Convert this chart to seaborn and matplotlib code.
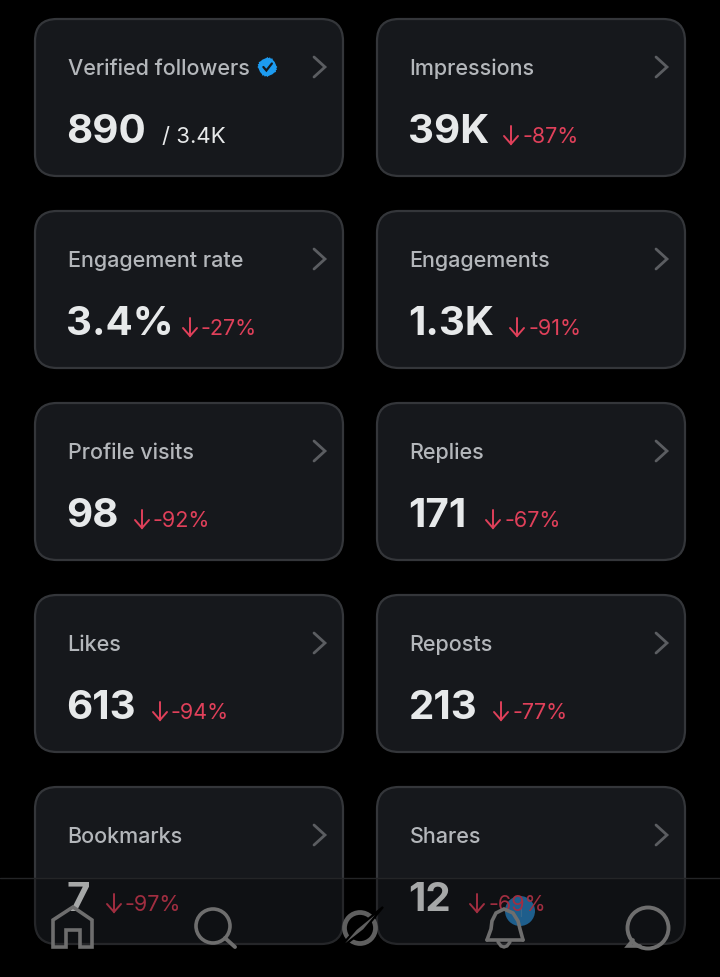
import matplotlib
matplotlib.use("Agg")
import matplotlib.pyplot as plt
import seaborn as sns
from matplotlib.patches import Circle, FancyBboxPatch, Rectangle, Polygon, RegularPolygon
from matplotlib.lines import Line2D

# Tile contents, left to right then top to bottom
labels = ["Verified followers", "Impressions", "Engagement rate", "Engagements", "Profile visits",
          "Replies", "Likes", "Reposts", "Bookmarks", "Shares"]
values = ["890", "39K", "3.4%", "1.3K", "98", "171", "613", "213", "7", "12"]
deltas = ["/ 3.4K", "-87%", "-27%", "-91%", "-92%", "-67%", "-94%", "-77%", "-97%", "-69%"]

# where the second part of each value row starts, Inter runs wider than the original font
delta_start = [162, 504, 183, 510, 135, 486, 153, 494, 107, 470]

BG = "#000000"
CARD = "#16181c"
EDGE = "#34363a"
LABEL = "#b4b7bb"
VALUE = "#e7e9ea"
RED = "#e0405a"
CHEVRON = "#5b5d61"
ICON = "#6e6e6e"

sns.set_theme(style="dark", rc={"figure.facecolor": BG, "axes.facecolor": BG})
plt.rcParams["font.family"] = ["Inter", "DejaVu Sans"]

fig = plt.figure(figsize=(7.2, 9.78), dpi=100)
ax = fig.add_axes([0, 0, 1, 1])
ax.set_xlim(0, 720)
ax.set_ylim(978, 0)
ax.axis("off")
renderer = fig.canvas.get_renderer()


def line(xs, ys, color, lw, z=5, **kw):
    ax.add_line(Line2D(xs, ys, color=color, lw=lw, zorder=z, solid_capstyle="round",
                       solid_joinstyle="miter", **kw))


def draw_card(i):
    col, row = i % 2, i // 2
    x0 = 35 + col * 342
    y0 = 20 + row * 192
    ax.add_patch(FancyBboxPatch((x0, y0), 308, 157, boxstyle="round,pad=0,rounding_size=22",
                                fc=CARD, ec=EDGE, lw=1.6, zorder=1))
    tx = x0 + 32.5
    lab = ax.text(tx, y0 + 55, labels[i], color=LABEL, fontsize=15.5, fontweight="medium",
                  va="baseline", ha="left", zorder=2)
    ax.text(tx - 1, y0 + 123, values[i], color=VALUE, fontsize=29, fontweight="bold",
            va="baseline", ha="left", zorder=2)
    # chevron on the right of the tile
    cx = x0 + 279
    line([cx, cx + 11, cx], [y0 + 38, y0 + 48, y0 + 58], CHEVRON, 2.0, z=2)
    sx = delta_start[i]
    if i == 0:
        # badge next to the first label, and the plain total next to the value
        lab_end = lab.get_window_extent(renderer).x1
        bx = lab_end + 18
        for rot in (0, 0.26, 0.52):
            ax.add_patch(RegularPolygon((bx, y0 + 48), 4, radius=10, orientation=rot,
                                        fc="#1d9bf0", ec="none", zorder=2))
        ax.add_patch(Circle((bx, y0 + 48), 8.8, fc="#1d9bf0", ec="none", zorder=2))
        line([bx - 4, bx - 1, bx + 4.5], [y0 + 48, y0 + 51.5, y0 + 44.5], "#16181c", 1.6, z=3)
        ax.text(sx, y0 + 123, deltas[i], color=VALUE, fontsize=16, va="baseline", zorder=2)
    else:
        line([sx + 7, sx + 7], [y0 + 107, y0 + 125], RED, 1.4, z=2)
        line([sx, sx + 7, sx + 14], [y0 + 117, y0 + 125, y0 + 117], RED, 1.4, z=2)
        ax.text(sx + 18, y0 + 123, deltas[i], color=RED, fontsize=15.5, va="baseline", zorder=2)


for i in range(len(labels)):
    draw_card(i)

# badge sits under the nav bar tint so the tile text stays readable over it
ax.add_patch(Circle((520, 912), 15, fc="#2a83c3", ec="none", zorder=1.5))
ax.text(520, 917, "1", color="#4f93c4", fontsize=9, ha="center", va="baseline", zorder=1.6)

# translucent navigation bar on top of the last row
ax.add_patch(Rectangle((0, 879), 720, 99, fc="black", ec="none", alpha=0.28, zorder=4))
line([0, 720], [879, 879], "#242527", 1.0, z=4)

# home
ax.add_patch(Polygon([(53, 948), (53, 921), (73, 908), (92, 921), (92, 948), (80, 948), (80, 931), (66, 931), (66, 948)],
                     closed=True, fc="none", ec=ICON, lw=2.6, zorder=5))
# search
ax.add_patch(Circle((213, 927), 17, fc="none", ec=ICON, lw=2.6, zorder=5))
line([225, 235], [939, 948], ICON, 2.8)
# logo: ring cut by a thin swoosh
ax.add_patch(Circle((360, 929), 15.5, fc="none", ec="#5f5f5f", lw=3.4, zorder=5))
ax.add_patch(Polygon([(337, 952), (356, 930), (383, 908), (364, 931)], closed=True,
                     fc="#5f5f5f", ec="#000000", lw=1.6, zorder=5))
# bell
line([487, 491, 492, 496, 504, 513, 518, 520, 523],
     [941, 930, 922, 914, 910, 914, 922, 930, 941], ICON, 2.6)
line([487, 523], [941, 941], ICON, 2.6)
line([498, 501, 504, 507, 510], [943, 947, 948, 947, 943], ICON, 2.4)
# chat bubble
ax.add_patch(Circle((648, 929), 20.5, fc="none", ec=ICON, lw=2.8, zorder=5))
line([633, 628, 640], [941, 947, 947], ICON, 2.6)

fig.savefig("out.png", dpi=100, facecolor=BG)
